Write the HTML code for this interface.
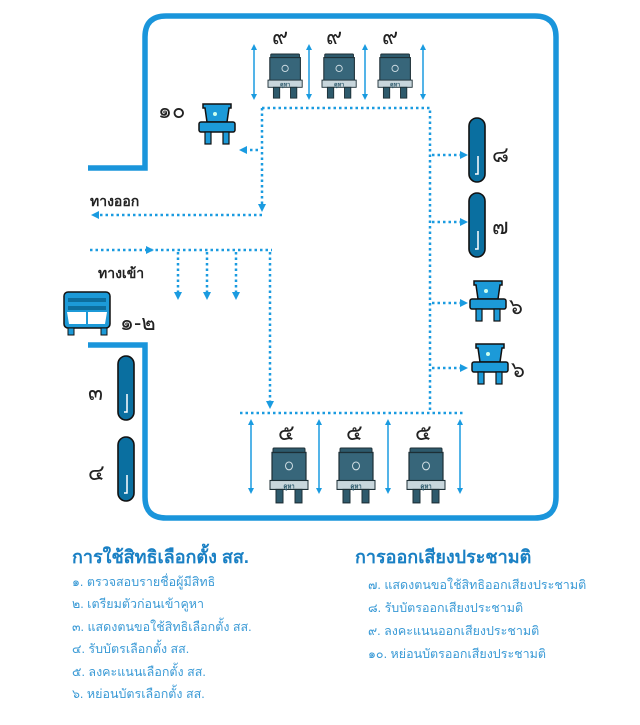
<!DOCTYPE html>
<html><head><meta charset="utf-8"><style>
html,body{margin:0;padding:0;background:#fff}
svg{display:block}
.t{font-family:"Liberation Sans","Noto Sans CJK SC",sans-serif}
</style></head><body>
<svg width="640" height="725" viewBox="0 0 640 725" xmlns="http://www.w3.org/2000/svg">
<defs>
<marker id="ah" markerWidth="8" markerHeight="8" refX="4" refY="4" orient="auto" markerUnits="userSpaceOnUse">
<path d="M0,0 L8,4 L0,8z" fill="#1a9be0"/></marker>
<marker id="da" markerWidth="6" markerHeight="6" refX="3" refY="3" orient="auto-start-reverse" markerUnits="userSpaceOnUse">
<path d="M0,0 L6,3 L0,6z" fill="#1a9be0"/></marker>
<g id="bk">
<rect x="3" y="0" width="32" height="5" rx="1" fill="#2e5a6c" stroke="#1d2f36" stroke-width="1"/>
<rect x="2" y="4" width="34" height="28" fill="#37667a" stroke="#1d2f36" stroke-width="1.2"/>
<circle cx="19" cy="16" r="3.5" fill="none" stroke="#cfdde3" stroke-width="1"/>
<rect x="0" y="29" width="38" height="8" fill="#c8d6dc" stroke="#1d2f36" stroke-width="1"/>
<text x="19" y="36" font-size="6" fill="#2e5a6c" text-anchor="middle" class="t" font-weight="bold">คูหา</text>
<rect x="6" y="37" width="7" height="12" fill="#2e5a6c" stroke="#1d2f36"/>
<rect x="25" y="37" width="7" height="12" fill="#2e5a6c" stroke="#1d2f36"/>
</g>
<g id="sb">
<path d="M4,0 H32 V4 H30 L28,18 H8 L6,4 H4z" fill="#1c9ad8" stroke="#111" stroke-width="1.5"/>
<circle cx="16" cy="10" r="2" fill="#cfe"/>
<rect x="0" y="18" width="36" height="10" rx="2" fill="#1c9ad8" stroke="#111" stroke-width="1.5"/>
<rect x="6" y="28" width="6" height="12" fill="#1c9ad8" stroke="#111" stroke-width="1.2"/>
<rect x="24" y="28" width="6" height="12" fill="#1c9ad8" stroke="#111" stroke-width="1.2"/>
</g>
<g id="bx">
<rect x="0" y="0" width="16" height="64" rx="8" fill="#0a6fa0" stroke="#111" stroke-width="1.6"/>
<path d="M9,38 V56 H6" fill="none" stroke="#fff" stroke-width="1.5"/>
</g>
</defs>

<g fill="none" stroke="#1a95db" stroke-width="5.5">
<path d="M88,168 H145 V37 Q145,16 166,16 H535 Q556,16 556,37 V497 Q556,518 535,518 H166 Q145,518 145,497 V345 H88"/>
</g>

<g fill="none" stroke="#1a9be0" stroke-width="2.5" stroke-dasharray="2.5,3">
<path d="M262,108 H430 V413"/>
<path d="M262,108 V208" marker-end="url(#ah)"/>
<path d="M262,215 H95" marker-end="url(#ah)"/>
<path d="M258,150 H243" marker-end="url(#ah)"/>
<path d="M90,250 H150"/>
<path d="M150,250 H272"/>
<path d="M178,252 V296" marker-end="url(#ah)"/>
<path d="M207,252 V296" marker-end="url(#ah)"/>
<path d="M236,252 V296" marker-end="url(#ah)"/>
<path d="M270,252 V405" marker-end="url(#ah)"/>
<path d="M240,413 H463"/>
<path d="M432,155 H464" marker-end="url(#ah)"/>
<path d="M432,222 H464" marker-end="url(#ah)"/>
<path d="M432,303 H464" marker-end="url(#ah)"/>
<path d="M432,368 H464" marker-end="url(#ah)"/>
</g>
<path d="M146,250 L154,254 L146,258z" fill="#1a9be0" transform="translate(0,-4)"/>

<g stroke="#1a9be0" stroke-width="1.5" marker-start="url(#da)" marker-end="url(#da)">
<line x1="254" y1="47" x2="254" y2="97"/><line x1="309" y1="47" x2="309" y2="97"/>
<line x1="365" y1="47" x2="365" y2="97"/><line x1="423" y1="47" x2="423" y2="97"/>
<line x1="251" y1="422" x2="251" y2="491"/><line x1="319" y1="422" x2="319" y2="491"/>
<line x1="388" y1="422" x2="388" y2="491"/><line x1="460" y1="422" x2="460" y2="491"/>
</g>

<g transform="translate(268,54) scale(0.9)"><use href="#bk"/></g>
<g transform="translate(322,54) scale(0.9)"><use href="#bk"/></g>
<g transform="translate(378,54) scale(0.9)"><use href="#bk"/></g>
<g transform="translate(270,448) scale(1,1.12)"><use href="#bk"/></g>
<g transform="translate(337,448) scale(1,1.12)"><use href="#bk"/></g>
<g transform="translate(407,448) scale(1,1.12)"><use href="#bk"/></g>

<g transform="translate(199,104)"><use href="#sb"/></g>
<g transform="translate(470,281)"><use href="#sb"/></g>
<g transform="translate(472,344)"><use href="#sb"/></g>

<g transform="translate(469,118)"><use href="#bx"/></g>
<g transform="translate(469,193)"><use href="#bx"/></g>
<g transform="translate(118,356)"><use href="#bx"/></g>
<g transform="translate(118,437)"><use href="#bx"/></g>

<rect x="64" y="292" width="46" height="36" rx="4" fill="#1c9ad8" stroke="#111" stroke-width="1.5"/>
<rect x="68" y="298" width="38" height="4" fill="#0d6e9e"/>
<rect x="68" y="306" width="38" height="4" fill="#0d6e9e"/>
<path d="M67,312 H86 V324 H69z M88,312 H107 L105,324 H88z" fill="#fff"/>
<rect x="68" y="328" width="6" height="7" fill="#1c9ad8" stroke="#111"/>
<rect x="101" y="328" width="6" height="7" fill="#1c9ad8" stroke="#111"/>

<g class="t" fill="#222" font-size="22">
<text x="272" y="44">๙</text><text x="326" y="44">๙</text><text x="382" y="44">๙</text>
<text x="278" y="440">๕</text><text x="346" y="440">๕</text><text x="415" y="440">๕</text>
<text x="158" y="118">๑๐</text>
<text x="492" y="162">๘</text><text x="492" y="234">๗</text>
<text x="509" y="314">๖</text><text x="511" y="377">๖</text>
<text x="88" y="400">๓</text><text x="88" y="480">๔</text>
<text x="120" y="330">๑-๒</text>
</g>
<g class="t" fill="#222" font-size="14" font-weight="bold">
<text x="90" y="206">ทางออก</text>
<text x="98" y="278">ทางเข้า</text>
</g>

<g class="t">
<text x="72" y="563" font-size="18" font-weight="bold" fill="#1a80c4">การใช้สิทธิเลือกตั้ง สส.</text>
<g font-size="12.5" fill="#3a9ad6">
<text x="72" y="586">๑. ตรวจสอบรายชื่อผู้มีสิทธิ</text>
<text x="72" y="608">๒. เตรียมตัวก่อนเข้าคูหา</text>
<text x="72" y="631">๓. แสดงตนขอใช้สิทธิเลือกตั้ง สส.</text>
<text x="72" y="653">๔. รับบัตรเลือกตั้ง สส.</text>
<text x="72" y="676">๕. ลงคะแนนเลือกตั้ง สส.</text>
<text x="72" y="698">๖. หย่อนบัตรเลือกตั้ง สส.</text>
</g>
<text x="355" y="563" font-size="18" font-weight="bold" fill="#1a80c4">การออกเสียงประชามติ</text>
<g font-size="12.5" fill="#3a9ad6">
<text x="368" y="589">๗. แสดงตนขอใช้สิทธิออกเสียงประชามติ</text>
<text x="368" y="612">๘. รับบัตรออกเสียงประชามติ</text>
<text x="368" y="635">๙. ลงคะแนนออกเสียงประชามติ</text>
<text x="368" y="658">๑๐. หย่อนบัตรออกเสียงประชามติ</text>
</g>
</g>
</svg>
</body></html>
